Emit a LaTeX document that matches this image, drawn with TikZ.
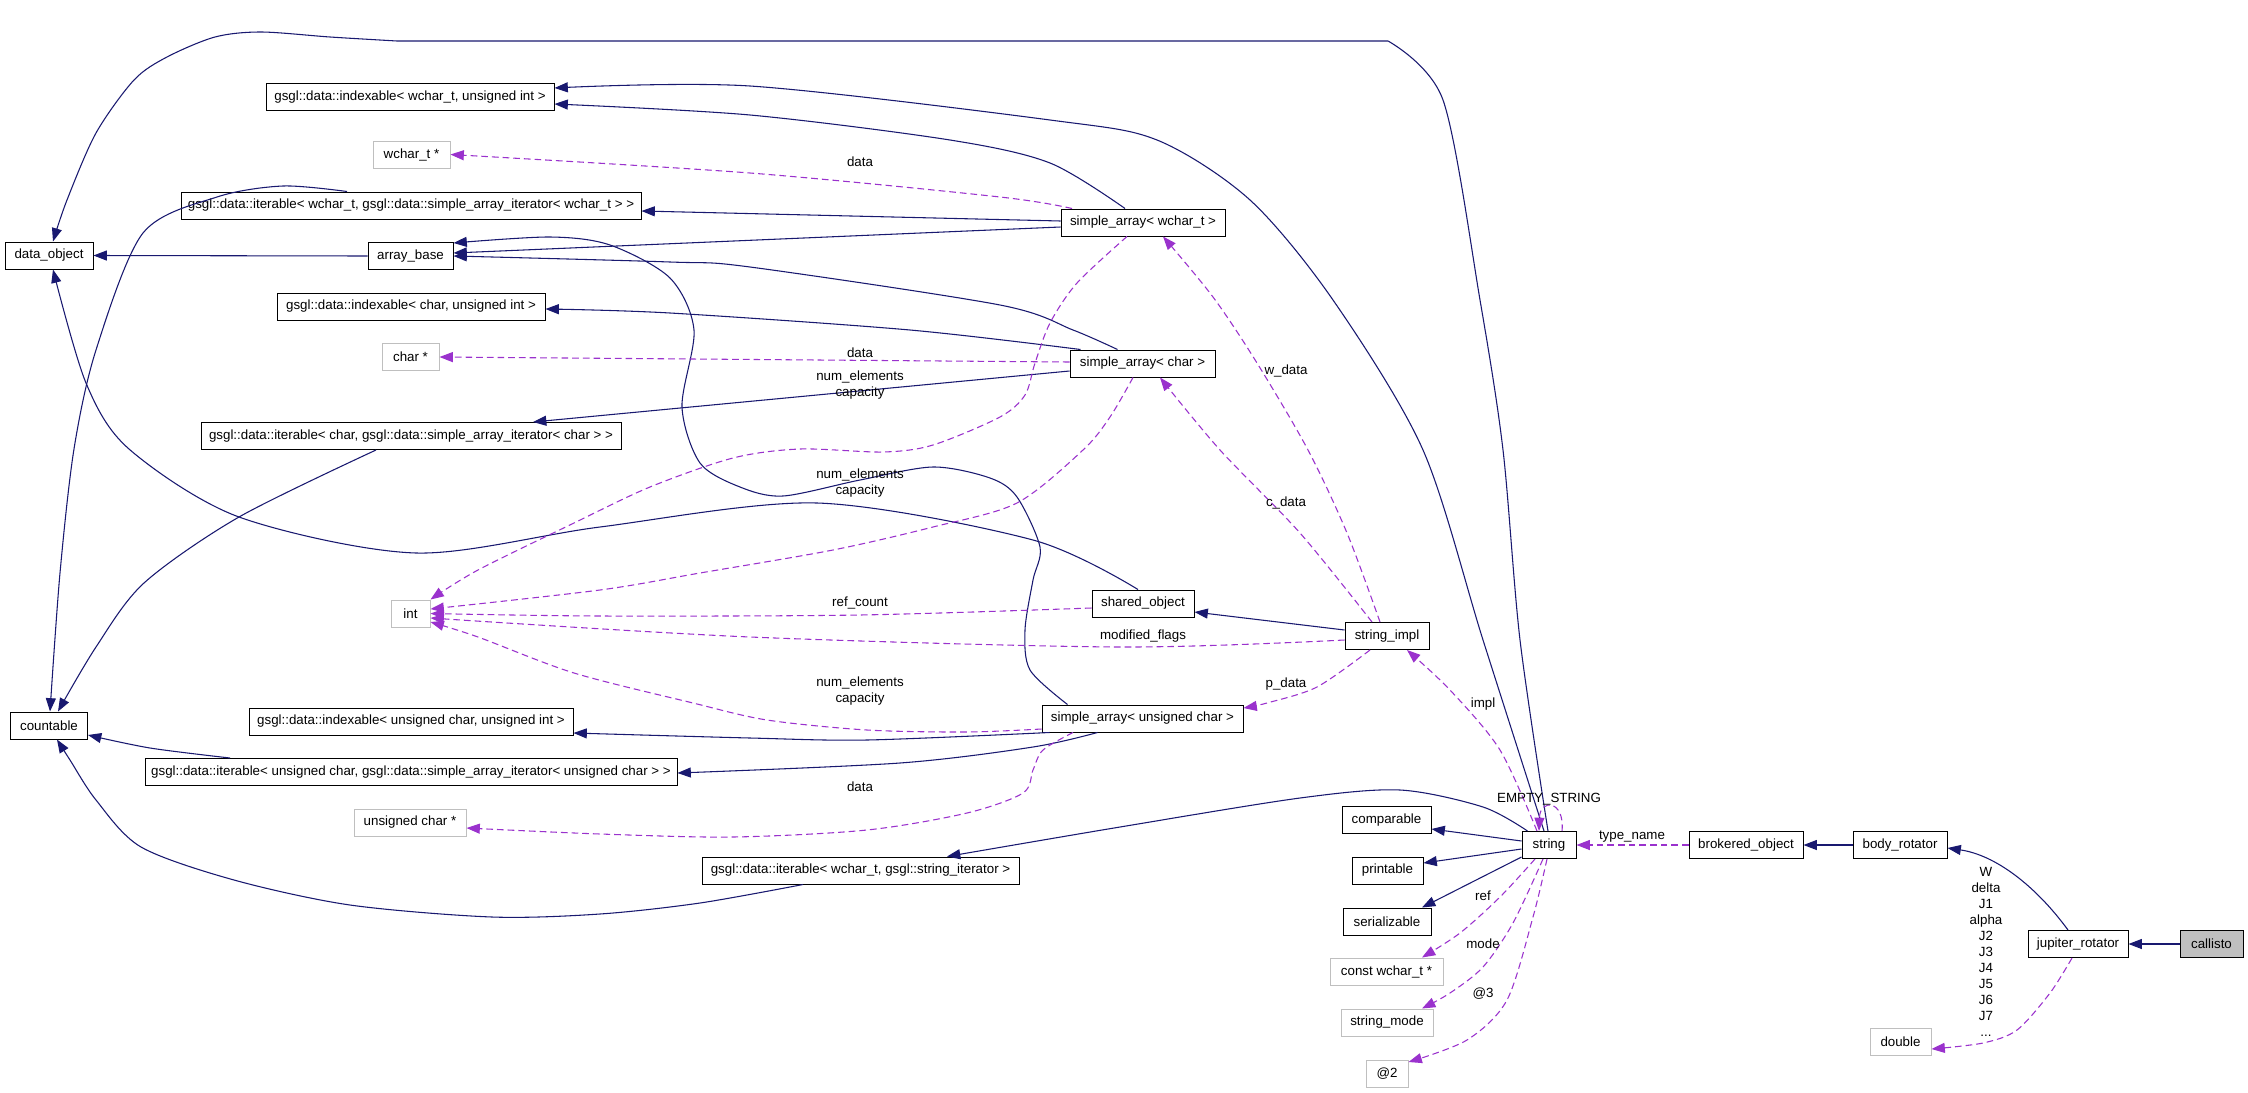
\documentclass[tikz,border=0pt]{standalone}
\usepackage{fontspec}
\setmainfont{Liberation Sans}
\usetikzlibrary{arrows.meta,calc}
\definecolor{navyc}{HTML}{191970}
\definecolor{orch}{HTML}{9A32CD}
\definecolor{lgray}{HTML}{BFBFBF}
\newcommand{\fs}{\fontsize{10}{12}\selectfont}
\tikzset{
  cls/.style={draw=black, line width=0.75pt, fill=white, minimum height=20.25pt, inner sep=0pt, font=\fs},
  ext/.style={cls, draw=lgray},
  wd/.style={minimum width=#1*0.75pt},
  inh/.style={draw=navyc, line width=0.8pt, -{Triangle[length=10pt,width=7.5pt]}},
  use/.style={draw=orch, line width=0.8pt, dash pattern=on 5pt off 3pt, -{Triangle[length=10pt,width=7.5pt]}},
  lbl/.style={font=\fs, inner sep=0pt, align=center},
}
\begin{document}
\begin{tikzpicture}[x=0.75pt,y=-0.75pt]
\useasboundingbox[fill=white] (0,0) rectangle (2248,1092);
% nodes
\node[cls,wd=88] (do) at (49,255.5) {data\_object};
\node[cls,wd=288] (idxw) at (410,97) {gsgl::data::indexable< wchar\_t, unsigned int >};
\node[ext,wd=77] (wptr) at (411.5,154.5) {wchar\_t *};
\node[cls,wd=460] (itw) at (411,205.5) {gsgl::data::iterable< wchar\_t, gsgl::data::simple\_array\_iterator< wchar\_t > >};
\node[cls,wd=85] (ab) at (410.5,256) {array\_base};
\node[cls,wd=268] (idxc) at (411,306.5) {gsgl::data::indexable< char, unsigned int >};
\node[ext,wd=57] (cptr) at (410.5,356.5) {char *};
\node[cls,wd=420] (itc) at (411,436) {gsgl::data::iterable< char, gsgl::data::simple\_array\_iterator< char > >};
\node[ext,wd=39] (int) at (410.5,613.5) {int};
\node[cls,wd=77] (cnt) at (49,725.5) {countable};
\node[cls,wd=324] (idxu) at (411,721.5) {gsgl::data::indexable< unsigned char, unsigned int >};
\node[cls,wd=532] (itu) at (411,772) {gsgl::data::iterable< unsigned char, gsgl::data::simple\_array\_iterator< unsigned char > >};
\node[ext,wd=112] (uptr) at (410,822.5) {unsigned char *};
\node[cls,wd=317] (its) at (860.5,870.5) {gsgl::data::iterable< wchar\_t, gsgl::string\_iterator >};
\node[cls,wd=164] (saw) at (1143,222.5) {simple\_array< wchar\_t >};
\node[cls,wd=145] (sac) at (1142.5,363.5) {simple\_array< char >};
\node[cls,wd=102] (so) at (1143,603.5) {shared\_object};
\node[cls,wd=201] (sau) at (1142.5,718.5) {simple\_array< unsigned char >};
\node[cls,wd=84] (si) at (1387,636) {string\_impl};
\node[cls,wd=54] (str) at (1549,845) {string};
\node[cls,wd=89] (cmp) at (1386.5,820) {comparable};
\node[cls,wd=71] (prt) at (1387.5,870.5) {printable};
\node[cls,wd=88] (ser) at (1387,921.5) {serializable};
\node[ext,wd=113] (cw) at (1386.5,971.5) {const wchar\_t *};
\node[ext,wd=92] (sm) at (1387,1022.5) {string\_mode};
\node[ext,wd=42] (at2) at (1387,1073.5) {@2};
\node[cls,wd=114] (bo) at (1746,845) {brokered\_object};
\node[cls,wd=94] (br) at (1900,845) {body\_rotator};
\node[cls,wd=100] (jr) at (2078,944) {jupiter\_rotator};
\node[cls,wd=63,fill=lgray] (cal) at (2211.5,944) {callisto};
\node[ext,wd=61] (dbl) at (1900.5,1041.5) {double};
% solid edges
\draw[inh] (ab.west) -- (do.east);
\draw[inh] plot[smooth] coordinates {($(so.north)+(-5,0)$) (1033,540) (817,503) (600,527) (416,553) (239,517) (129,449) (86,383) ($(do.south)+(4,0)$)};
\draw[inh] plot[smooth] coordinates {($(str.north)+(-1,0)$) (1520,640) (1503,450) (1480,300) (1443,100) (1388,41)} -- plot[smooth] coordinates {(397,41) (330,37) (261,32) (215,37) (167,57) (134,80) (96,133) (67,200) ($(do.north)+(4,0)$)};
\draw[inh] plot[smooth] coordinates {($(str.north)+(-5,0)$) (1483,640) (1423,450) (1333,300) (1250,200) (1157,140) (1050,120) (750,86) ($(idxw.east)+(0,-9)$)};
\draw[inh] plot[smooth] coordinates {($(saw.north)+(-18,0)$) (1050,163) (950,140) (750,115) ($(idxw.east)+(0,7)$)};
\draw[inh] ($(saw.west)+(0,-1.5)$) -- ($(itw.east)+(0,5.5)$);
\draw[inh] ($(saw.west)+(0,4.5)$) -- ($(ab.east)+(0,-3)$);
\draw[inh] plot[smooth] coordinates {($(sac.north)+(-25,0)$) (1073,330) (1000,305) (750,267) (670,262) (ab.east)};
\draw[inh] plot[smooth] coordinates {($(sac.north)+(-62,0)$) (910,330) (670,313) ($(idxc.east)+(0,2.5)$)};
\draw[inh] ($(sac.west)+(0,7.5)$) -- ($(itc.north)+(122,0)$);
\draw[inh] plot[smooth] coordinates {($(sau.north)+(-75,0)$) (1030,670) (1025,630) (1033,580) (1040,547) (1017,497) (990,478) (933,467) (860,480) (783,496) (740,487) (700,463) (682,407) (694,330) (670,278) (610,245) (550,237) ($(ab.east)+(0,-13)$)};
\draw[inh] plot[smooth] coordinates {($(sau.south west)+(8,0)$) (867,740) (750,738) ($(idxu.east)+(0,11.5)$)};
\draw[inh] plot[smooth] coordinates {($(sau.south)+(-45,0)$) (1033,747) (900,763) ($(itu.east)+(0,1)$)};
\draw[inh] plot[smooth] coordinates {($(itw.north)+(-64,0)$) (283,186) (217,197) (143,233) (96,350) (74,449) (60,573) ($(cnt.north)+(1,0)$)};
\draw[inh] plot[smooth] coordinates {($(itc.south)+(-35,0)$) (239,517) (144,583) (96,647) ($(cnt.north)+(9,0)$)};
\draw[inh] plot[smooth] coordinates {($(itu.north)+(-181,0)$) (150,748) ($(cnt.east)+(0,9.5)$)};
\draw[inh] plot[smooth] coordinates {($(its.south)+(-57.5,0)$) (700,903) (600,914) (492,917) (350,905) (234,880) (141,847) (96,800) (70,760) ($(cnt.south)+(8,0)$)};
\draw[inh] plot[smooth] coordinates {($(str.north west)+(6,0)$) (1483,807) (1400,790) (1300,798) (1120,827) ($(its.north)+(86.5,0)$)};
\draw[inh] ($(str.west)+(0,-4)$) -- ($(cmp.east)+(0,9)$);
\draw[inh] ($(str.west)+(0,4)$) -- ($(prt.east)+(0,-7.5)$);
\draw[inh] ($(str.west)+(0,12)$) -- ($(ser.north)+(35,0)$);
\draw[inh] ($(si.west)+(0,-6)$) -- ($(so.east)+(0,8.5)$);
\draw[inh] (br.west) -- (bo.east);
\draw[inh] ($(jr.north)+(-10,0)$) .. controls (2035,885) and (1995,855) .. ($(br.east)+(0,3)$);
\draw[inh] (cal.west) -- (jr.east);
% dashed edges
\draw[use] plot[smooth] coordinates {($(saw.north)+(-71,0)$) (1000,197) (750,173) (wptr.east)};
\draw[use] ($(sac.west)+(0,-1.5)$) -- ($(cptr.east)+(0,0.5)$);
\draw[use] plot[smooth] coordinates {($(saw.south)+(-16,0)$) (1077,283) (1050,323) (1035,363) (1025,395) (1000,417) (933,445) (883,452) (800,449) (733,458) (650,487) (574,523) (478,570) (int.north east)};
\draw[use] plot[smooth] coordinates {($(sac.south)+(-9.5,0)$) (1110,417) (1083,450) (1017,503) (933,527) (833,550) (700,573) (600,590) ($(int.east)+(0,-4.5)$)};
\draw[use] plot[smooth] coordinates {($(so.west)+(0,4.5)$) (860,615) (600,616) (int.east)};
\draw[use] plot[smooth] coordinates {($(si.west)+(0,4)$) (1120,647) (750,637) ($(int.east)+(0,4.5)$)};
\draw[use] plot[smooth] coordinates {($(sau.west)+(0,10.5)$) (967,732) (867,730) (767,720) (693,703) (574,673) (478,637) ($(int.east)+(0,8.5)$)};
\draw[use] plot[smooth] coordinates {($(sau.south)+(-69.5,0)$) (1043,750) (1033,770) (1023,793) (967,813) (867,830) (733,837) (600,834) ($(uptr.east)+(0,5.5)$)};
\draw[use] plot[smooth] coordinates {($(si.north)+(-7,0)$) (1347,533) (1308,450) (1257,363) (1213,297) ($(saw.south)+(20,0)$)};
\draw[use] plot[smooth] coordinates {($(si.north)+(-15,0)$) (1300,533) (1220,450) ($(sac.south)+(17.5,0)$)};
\draw[use] plot[smooth] coordinates {($(si.south)+(-17,0)$) (1317,687) (1267,703) ($(sau.east)+(0,-10.5)$)};
\draw[use] plot[smooth] coordinates {($(str.north)+(-12,0)$) (1500,750) (1450,690) ($(si.south)+(20,0)$)};
\draw[use] ($(str.north)+(13,0)$) .. controls (1565,800) and (1540,798) .. ($(str.north)+(-10,0)$);
\draw[use] (bo.west) -- (str.east);
\draw[use] plot[smooth] coordinates {($(str.south)+(-14,0)$) (1500,897) (1460,933) ($(cw.north)+(35.5,0)$)};
\draw[use] plot[smooth] coordinates {($(str.south)+(-6,0)$) (1513,923) (1483,967) (1450,993) ($(sm.north)+(35,0)$)};
\draw[use] plot[smooth] coordinates {($(str.south)+(-2,0)$) (1533,917) (1507,1000) (1467,1040) ($(at2.east)+(0,-11.5)$)};
\draw[use] plot[smooth] coordinates {($(jr.south)+(-6,0)$) (2050,993) (2017,1030) (1983,1043) ($(dbl.east)+(0,7.5)$)};
% labels
\node[lbl] (l1) at (860,162) {data};
\node[lbl] (l2) at (860,353) {data};
\node[lbl] (l3) at (860,385) {num\_elements\\capacity};
\node[lbl] (l4) at (860,483) {num\_elements\\capacity};
\node[lbl] (l5) at (860,603) {ref\_count};
\node[lbl] (l6) at (1143,636) {modified\_flags};
\node[lbl] (l7) at (860,691) {num\_elements\\capacity};
\node[lbl] (l8) at (860,787) {data};
\node[lbl] (l9) at (1286,371) {w\_data};
\node[lbl] (l10) at (1286,503) {c\_data};
\node[lbl] (l11) at (1286,684) {p\_data};
\node[lbl] (l12) at (1483,704) {impl};
\node[lbl] (l13) at (1549,799) {EMPTY\_STRING};
\node[lbl] (l14) at (1632,837) {type\_name};
\node[lbl] (l15) at (1483,896) {ref};
\node[lbl] (l16) at (1483,944) {mode};
\node[lbl] (l17) at (1483,994) {@3};
\node[lbl] (l18) at (1986,952) {W\\delta\\J1\\alpha\\J2\\J3\\J4\\J5\\J6\\J7\\...};
\end{tikzpicture}
\end{document}
